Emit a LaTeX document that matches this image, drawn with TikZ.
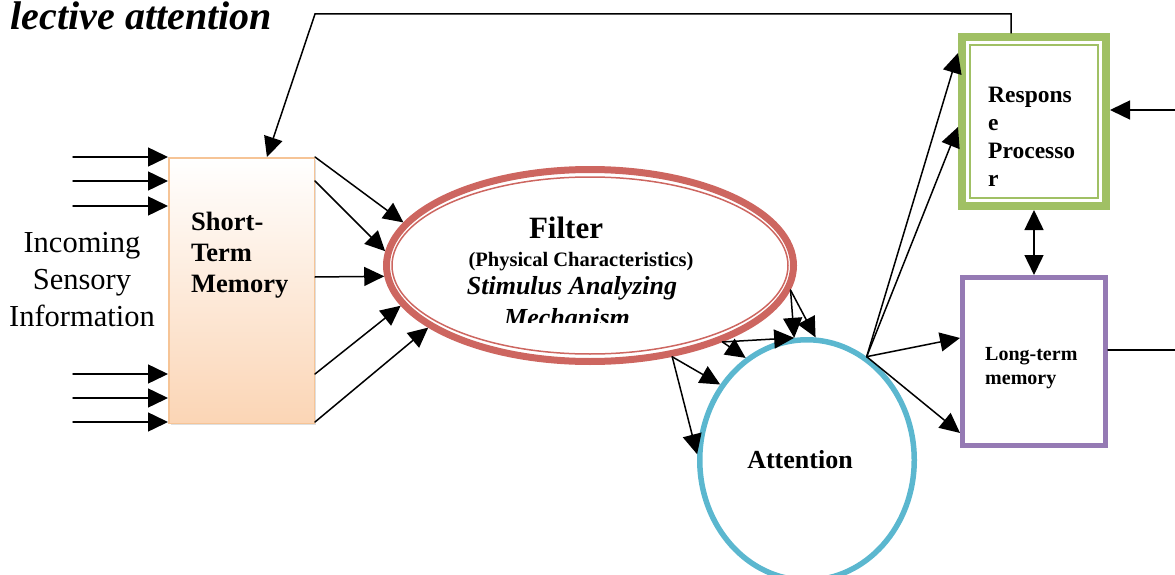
\documentclass[tikz,border=0pt]{standalone}
\usepackage{fontspec}
\setmainfont{Liberation Serif}
\usetikzlibrary{calc,arrows.meta,shapes.geometric,shadows}
\definecolor{peach}{RGB}{251,213,181}
\definecolor{peachline}{RGB}{246,196,150}
\definecolor{rojo}{RGB}{205,102,96}
\definecolor{celeste}{RGB}{91,183,207}
\definecolor{oliva}{RGB}{160,192,100}
\definecolor{lila}{RGB}{149,122,180}

\begin{document}
\begin{tikzpicture}[x=1pt,y=-1pt,>={Triangle[length=20pt,width=19pt]},line cap=round,
    flecha/.style={->,line width=1.5pt},
    txt/.style={inner sep=0pt,align=left}]
  \useasboundingbox (0,0) rectangle (1175,575);

  \node[txt,anchor=base east,font=\bfseries\itshape\fontsize{40}{46}\selectfont] (title) at (272,30) {lective attention};
  \node[txt,align=center,font=\fontsize{30.5}{37}\selectfont] (incoming) at (82,280) {Incoming\\Sensory\\Information};

  \node[draw=peachline,line width=1.5pt,top color=white,bottom color=peach,
        minimum width=145.5pt,minimum height=265.5pt,
        drop shadow={opacity=0.25,shadow xshift=2pt,shadow yshift=-2pt}] (stm) at (241.5,290.5) {};
  \node[txt,anchor=west,font=\bfseries\fontsize{26.5}{31}\selectfont] (stmtext) at (191,255) {Short-\\Term\\Memory};

  \node[ellipse,draw=rojo,line width=7pt,minimum width=407pt,minimum height=192pt] (filter) at (590,265.5) {};
  \draw[rojo,line width=1.5pt] (filter.center) ellipse [x radius=198pt,y radius=88.5pt];
  \node[txt,anchor=base,font=\bfseries\fontsize{31}{36}\selectfont] (ftitle) at (566,238) {Filter};
  \node[txt,anchor=base,font=\bfseries\fontsize{20.5}{24}\selectfont] (fphys) at (581,266) {(Physical Characteristics)};
  \node[txt,anchor=base,font=\bfseries\itshape\fontsize{26}{30}\selectfont] (fstim) at (572,294) {Stimulus Analyzing};
  \begin{scope}
    \clip (450,300) rectangle (700,322);
    \node[txt,anchor=base,font=\bfseries\itshape\fontsize{26}{30}\selectfont] (fmech) at (567,326.5) {Mechanism};
  \end{scope}

  \node[ellipse,draw=celeste,line width=5.5pt,minimum width=214.5pt,minimum height=240.5pt] (attn) at (807,460) {};
  \node[txt,anchor=base,font=\bfseries\fontsize{26}{30}\selectfont] (attntext) at (800,468) {Attention};

  \node[draw=oliva,line width=8pt,minimum width=144pt,minimum height=169pt] (resp) at (1034,121.5) {};
  \draw[oliva,line width=1.3pt] ($(resp.north west)+(12,12)$) rectangle ($(resp.south east)+(-12,-12)$);
  \node[txt,anchor=north west,font=\bfseries\fontsize{23.5}{28}\selectfont] (resptext) at (988,87.4) {Respons\\e\\Processo\\r};

  \node[draw=lila,line width=5pt,minimum width=143pt,minimum height=168pt] (ltm) at (1034,361.5) {};
  \node[txt,anchor=north west,font=\bfseries\fontsize{20}{24}\selectfont] (ltmtext) at (985,346.8) {Long-term\\memory};

  \foreach \y [count=\i] in {157,181,206,374,398,422}{
    \coordinate (in\i) at (73,\y);
    \draw[flecha] (in\i) -- (in\i -| stm.west);
  }
  \foreach \y/\a in {157/167,181/176,277/183,374/192,422/201}
    \draw[flecha] (stm.east |- 0,\y) -- (filter.\a);

  \draw[flecha] (filter.-7) -- (attn.96);
  \draw[flecha] (filter.-7) -- (attn.86);
  \draw[flecha] (filter.-30) -- (attn.96);
  \draw[flecha] (filter.-30) -- (attn.121);
  \draw[flecha] (filter.-48) -- (attn.139);
  \draw[flecha] (filter.-48) -- (attn.177);

  \foreach \t in {0.113,0.531}
    \draw[flecha] (attn.60) -- ($(resp.north west)!\t!(resp.south west)$);
  \foreach \t in {0.364,0.913}
    \draw[flecha] (attn.60) -- ($(ltm.north west)!\t!(ltm.south west)$);
  \draw[<->,line width=1.5pt] (resp.south) -- (ltm.north);

  \coordinate (rin) at (1175,110);
  \draw[flecha] (rin) -- (rin -| resp.east);
  \coordinate (lout) at (1175,350);
  \draw[line width=1.5pt] (ltm.east |- lout) -- (lout);

  \coordinate (fbc) at (315,14);
  \draw[flecha] ($(resp.north west)!0.349!(resp.north east)$) |- (fbc)
    -- ($(stm.north west)!0.673!(stm.north east)$);
\end{tikzpicture}
\end{document}
